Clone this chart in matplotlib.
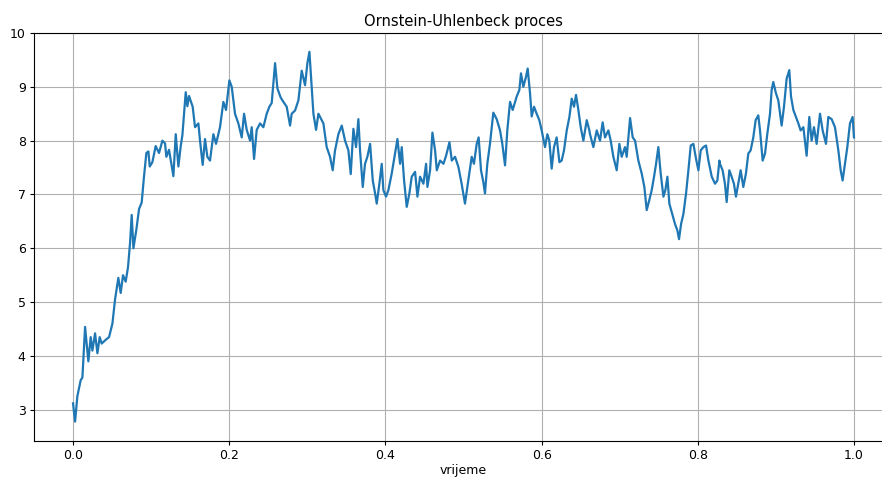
import matplotlib
matplotlib.use("Agg")
import matplotlib.pyplot as plt

# values (vrijeme, X_t)
t_a = [0.0, 0.0026, 0.0055, 0.0098, 0.0120, 0.0154, 0.0196, 0.0226, 0.0248, 0.0282,
       0.0312, 0.0341, 0.0367, 0.0418, 0.0461, 0.0504, 0.0538, 0.0580, 0.0610, 0.0640,
       0.0674, 0.0704, 0.0730, 0.0751, 0.0773, 0.0811, 0.0845, 0.0879, 0.0909, 0.0939,
       0.0965, 0.0982, 0.1016, 0.1058, 0.1101, 0.1144, 0.1178, 0.1195, 0.1229, 0.1285,
       0.1315, 0.1349, 0.1379, 0.1400, 0.1443, 0.1464, 0.1485]
x_a = [3.12, 2.78, 3.25, 3.55, 3.6, 4.54, 3.9, 4.35, 4.1, 4.42,
       4.05, 4.35, 4.23, 4.3, 4.35, 4.6, 5.05, 5.45, 5.17, 5.5,
       5.38, 5.65, 6.1, 6.62, 6.0, 6.35, 6.73, 6.85, 7.34, 7.77,
       7.8, 7.52, 7.6, 7.9, 7.77, 8.0, 7.95, 7.7, 7.83, 7.34,
       8.12, 7.52, 7.9, 8.1, 8.9, 8.64, 8.83]

t_b = [0.1532, 0.1562, 0.1605, 0.1626, 0.1660, 0.1690, 0.1720, 0.1754, 0.1797, 0.1831,
       0.1882, 0.1925, 0.1959, 0.2002, 0.2032, 0.2074, 0.2117, 0.2160, 0.2190, 0.2224,
       0.2267, 0.2288, 0.2318, 0.2352, 0.2395, 0.2437, 0.2480, 0.2514, 0.2544, 0.2587,
       0.2617, 0.2659, 0.2694, 0.2736, 0.2779, 0.2800, 0.2843, 0.2886, 0.2928, 0.2971,
       0.3001, 0.3027, 0.3048, 0.3078, 0.3112, 0.3142]
x_b = [8.63, 8.25, 8.32, 8.0, 7.55, 8.03, 7.7, 7.63, 8.12, 7.94,
       8.25, 8.72, 8.57, 9.12, 9.0, 8.5, 8.32, 8.06, 8.5, 8.2,
       8.0, 8.25, 7.66, 8.2, 8.32, 8.25, 8.5, 8.63, 8.7, 9.44,
       8.97, 8.8, 8.72, 8.63, 8.28, 8.5, 8.56, 8.75, 9.3, 9.03,
       9.44, 9.65, 9.18, 8.5, 8.2, 8.5]

t_c = [0.3206, 0.3248, 0.3291, 0.3325, 0.3355, 0.3398, 0.3441, 0.3483, 0.3526, 0.3556,
       0.3590, 0.3624, 0.3654, 0.3675, 0.3710, 0.3739, 0.3769, 0.3804, 0.3838, 0.3868,
       0.3889, 0.3923, 0.3953, 0.3974, 0.4008, 0.4038, 0.4081, 0.4124, 0.4154, 0.4188,
       0.4209, 0.4239, 0.4273, 0.4307, 0.4337, 0.4380, 0.4410, 0.4444, 0.4487, 0.4521,
       0.4538, 0.4572, 0.4602, 0.4636, 0.4658, 0.4700, 0.4743, 0.4777, 0.4820, 0.4850,
       0.4892, 0.4935]
x_c = [8.32, 7.88, 7.7, 7.45, 7.82, 8.12, 8.28, 8.0, 7.82, 7.38,
       8.22, 7.88, 8.4, 7.82, 7.14, 7.57, 7.7, 7.94, 7.26, 7.02,
       6.83, 7.2, 7.57, 7.08, 6.96, 7.08, 7.39, 7.76, 8.03, 7.57,
       7.88, 7.26, 6.77, 7.02, 7.33, 7.42, 6.96, 7.33, 7.2, 7.57,
       7.14, 7.45, 8.15, 7.82, 7.45, 7.63, 7.57, 7.72, 7.97, 7.63,
       7.7, 7.51]

t_d = [0.4976, 0.5019, 0.5062, 0.5105, 0.5134, 0.5169, 0.5194, 0.5224, 0.5254, 0.5275,
       0.5305, 0.5339, 0.5382, 0.5425, 0.5468, 0.5497, 0.5532, 0.5561, 0.5596, 0.5630,
       0.5660, 0.5681, 0.5715, 0.5736, 0.5766, 0.5801, 0.5822, 0.5852, 0.5873, 0.5903,
       0.5937, 0.5971, 0.6001, 0.6044, 0.6074, 0.6099, 0.6129, 0.6159, 0.6193, 0.6228,
       0.6257, 0.6287, 0.6322, 0.6356, 0.6386, 0.6415, 0.6441, 0.6471, 0.6501, 0.6535,
       0.6578, 0.6612]
x_d = [7.2, 6.83, 7.26, 7.7, 7.57, 7.94, 8.06, 7.45, 7.23, 7.02,
       7.57, 7.94, 8.52, 8.4, 8.19, 7.94, 7.54, 8.19, 8.72, 8.57,
       8.72, 8.82, 8.94, 9.25, 9.0, 9.19, 9.34, 8.88, 8.45, 8.63,
       8.5, 8.38, 8.19, 7.88, 8.12, 8.0, 7.48, 7.88, 8.06, 7.6,
       7.63, 7.82, 8.19, 8.44, 8.78, 8.63, 8.85, 8.57, 8.25, 8.0,
       8.38, 8.19]

t_e = [0.6620, 0.6663, 0.6706, 0.6748, 0.6782, 0.6812, 0.6855, 0.6885, 0.6919, 0.6962,
       0.6996, 0.7026, 0.7068, 0.7090, 0.7133, 0.7167, 0.7197, 0.7239, 0.7282, 0.7316,
       0.7346, 0.7380, 0.7410, 0.7440, 0.7466, 0.7495, 0.7525, 0.7560, 0.7585, 0.7611,
       0.7636, 0.7679, 0.7709, 0.7739, 0.7760, 0.7786, 0.7816, 0.7850, 0.7880, 0.7910,
       0.7944, 0.7978, 0.8008, 0.8038, 0.8072, 0.8106, 0.8136, 0.8179, 0.8221, 0.8251,
       0.8277]
x_e = [8.12, 7.88, 8.19, 8.0, 8.34, 8.06, 8.19, 8.0, 7.7, 7.45,
       7.94, 7.7, 7.88, 7.7, 8.42, 8.06, 8.0, 7.63, 7.39, 7.14,
       6.71, 6.9, 7.08, 7.33, 7.57, 7.88, 7.39, 6.96, 7.08, 7.33,
       6.83, 6.61, 6.45, 6.33, 6.17, 6.45, 6.64, 7.02, 7.45, 7.91,
       7.94, 7.66, 7.45, 7.82, 7.88, 7.91, 7.63, 7.33, 7.2, 7.26,
       7.63]

t_f = [0.8284, 0.8318, 0.8348, 0.8370, 0.8404, 0.8434, 0.8463, 0.8489, 0.8519, 0.8549,
       0.8583, 0.8617, 0.8647, 0.8677, 0.8711, 0.8741, 0.8775, 0.8797, 0.8831, 0.8861,
       0.8890, 0.8925, 0.8946, 0.8967, 0.9001, 0.9031, 0.9074, 0.9104, 0.9138, 0.9172,
       0.9194, 0.9224, 0.9258, 0.9288, 0.9317, 0.9352, 0.9394, 0.9428, 0.9458, 0.9488,
       0.9522, 0.9565, 0.9599, 0.9642, 0.9672, 0.9714, 0.9757, 0.9800, 0.9830, 0.9855,
       0.9885, 0.9915, 0.9949, 0.9983, 1.0]
x_f = [7.57, 7.45, 7.2, 6.86, 7.45, 7.33, 7.2, 6.96, 7.2, 7.45,
       7.14, 7.39, 7.76, 7.82, 8.06, 8.38, 8.47, 8.19, 7.63, 7.76,
       8.12, 8.5, 8.94, 9.09, 8.88, 8.75, 8.28, 8.63, 9.15, 9.31,
       8.82, 8.57, 8.44, 8.32, 8.19, 8.25, 7.72, 8.44, 8.0, 8.25,
       7.94, 8.5, 8.19, 7.94, 8.44, 8.4, 8.25, 7.82, 7.45, 7.26,
       7.57, 7.88, 8.32, 8.44, 8.06]

vrijeme = t_a + t_b + t_c + t_d + t_e + t_f
X = x_a + x_b + x_c + x_d + x_e + x_f

fig = plt.figure(figsize=(8.82, 4.79), dpi=100)
ax = fig.add_axes([34 / 882, 1 - 441 / 479, 859 / 882, 408 / 479])
ax.plot(vrijeme, X, color='#1f77b4', lw=1.6)

ax.set_xlim(-0.05, 1.05)
ax.set_ylim(2.42, 10.0)
ax.set_title('Ornstein-Uhlenbeck proces', fontsize=10.5, pad=5)
ax.set_xlabel('vrijeme', fontsize=9, labelpad=1)
ax.tick_params(labelsize=9, length=3, pad=3)
ax.grid(True)

fig.savefig('out.png', dpi=100)
